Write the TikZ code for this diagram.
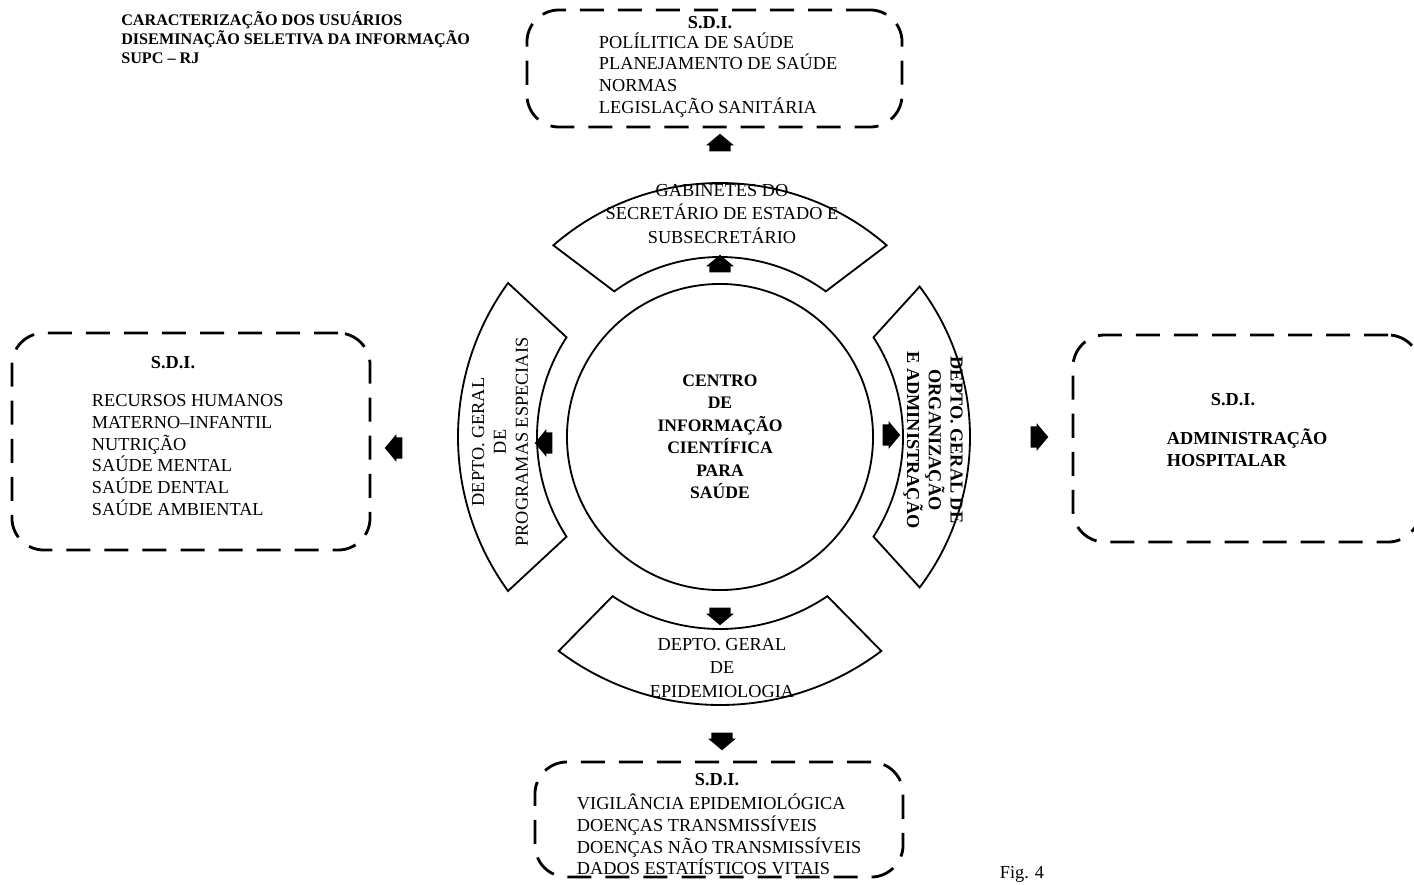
\documentclass[tikz,border=0pt]{standalone}
\usepackage{fontspec}
\setmainfont{Liberation Serif}
\usetikzlibrary{shapes.arrows}
\tikzset{
  texto/.style={font=\fontsize{13}{15.5}\selectfont},
  negrito/.style={font=\bfseries\fontsize{13}{15.5}\selectfont},
  sdibox/.style={draw, line width=2pt, rounded corners=0.8cm, dash pattern=on 0.6cm off 0.35cm},
  setor/.style={draw, line width=1.3pt},
  seta/.style={single arrow, fill=black, minimum width=0pt, minimum height=0pt,
    inner xsep=0.1cm, inner ysep=0.26cm, single arrow head extend=0.08cm, single arrow tip angle=100}
}

\begin{document}
\begin{tikzpicture}[x=0.025cm, y=0.025cm, texto]
  \useasboundingbox (0,0) rectangle (1414,-885);
  \coordinate (c) at (720,-437);

  % titulo
  \node[anchor=west, align=left, inner sep=0pt, font=\bfseries\fontsize{11.5}{13.5}\selectfont] (titulo) at (121,-38)
    {CARACTERIZAÇÃO DOS USUÁRIOS\\DISEMINAÇÃO SELETIVA DA INFORMAÇÃO\\SUPC -- RJ};

  % centro e setores
  \node[circle, draw, line width=1.3pt, minimum size=7.65cm, align=center,
    font=\bfseries\fontsize{12.5}{16}\selectfont] (centro) at (c)
    {CENTRO\\DE\\INFORMAÇÃO\\CIENTÍFICA\\PARA\\SAÚDE};
  \draw[setor] ([shift={(131:254)}]c) arc[start angle=131, end angle=49, radius=254]
    -- ([shift={(54:180)}]c) arc[start angle=54, end angle=126, radius=180] -- cycle;
  \draw[setor] ([shift={(144:262)}]c) arc[start angle=144, end angle=216, radius=262]
    -- ([shift={(213:183)}]c) arc[start angle=213, end angle=147, radius=183] -- cycle;
  \draw[setor] ([shift={(37:250)}]c) arc[start angle=37, end angle=-37, radius=250]
    -- ([shift={(-33:183)}]c) arc[start angle=-33, end angle=33, radius=183] -- cycle;
  \draw[setor] ([shift={(233:268)}]c) arc[start angle=233, end angle=307, radius=268]
    -- ([shift={(304:192)}]c) arc[start angle=304, end angle=236, radius=192] -- cycle;

  \node[align=center, font=\fontsize{13}{17}\selectfont] (gabinete) at (722,-214)
    {GABINETES DO\\SECRETÁRIO DE ESTADO E\\SUBSECRETÁRIO};
  \node[align=center, rotate=90] (progesp) at (500,-442)
    {DEPTO. GERAL\\DE\\PROGRAMAS ESPECIAIS};
  \node[align=center, rotate=-90, negrito] (orgadm) at (933,-440)
    {DEPTO. GERAL DE\\ORGANIZAÇÃO\\E ADMINISTRAÇÃO};
  \node[align=center, font=\fontsize{13}{16.7}\selectfont] (epidem) at (722,-668)
    {DEPTO. GERAL\\DE\\EPIDEMIOLOGIA};

  % caixas S.D.I.
  \node[sdibox, minimum width=9.375cm, minimum height=2.925cm] (caixasup) at (714.5,-68.5) {};
  \node[negrito] (sdisup) at (710,-23) {S.D.I.};
  \node[anchor=west, align=left] (itenssup) at (594,-75)
    {POLÍLITICA DE SAÚDE\\PLANEJAMENTO DE SAÚDE\\NORMAS\\LEGISLAÇÃO SANITÁRIA};

  \node[sdibox, minimum width=8.95cm, minimum height=5.425cm] (caixaesq) at (191,-441.5) {};
  \node[negrito] (sdiesq) at (173,-363) {S.D.I.};
  \node[anchor=west, align=left] (itensesq) at (87,-455)
    {RECURSOS HUMANOS\\MATERNO--INFANTIL\\NUTRIÇÃO\\SAÚDE MENTAL\\SAÚDE DENTAL\\SAÚDE AMBIENTAL};

  \node[sdibox, minimum width=8.675cm, minimum height=5.175cm] (caixadir) at (1246.5,-438.5) {};
  \node[negrito] (sdidir) at (1233,-400) {S.D.I.};
  \node[anchor=west, align=left, negrito] (itensdir) at (1162,-448)
    {ADMINISTRAÇÃO\\HOSPITALAR};

  \node[sdibox, minimum width=9.2cm, minimum height=2.875cm] (caixainf) at (719,-819.5) {};
  \node[negrito] (sdiinf) at (717,-780) {S.D.I.};
  \node[anchor=west, align=left] (itensinf) at (572,-834.5)
    {VIGILÂNCIA EPIDEMIOLÓGICA\\DOENÇAS TRANSMISSÍVEIS\\DOENÇAS NÃO TRANSMISSÍVEIS\\DADOS ESTATÍSTICOS VITAIS};

  % setas
  \node[seta, rotate=90] (s1) at (720,-268) {};
  \node[seta, rotate=90] (s2) at (720,-147) {};
  \node[seta, rotate=180] (s3) at (548,-443) {};
  \node[seta, rotate=180] (s4) at (398,-448) {};
  \node[seta] (s5) at (887,-435) {};
  \node[seta] (s6) at (1035,-437) {};
  \node[seta, rotate=270] (s7) at (720,-612) {};
  \node[seta, rotate=270] (s8) at (722,-737) {};

  \node (fig) at (1022,-874) {Fig. 4};
\end{tikzpicture}
\end{document}
